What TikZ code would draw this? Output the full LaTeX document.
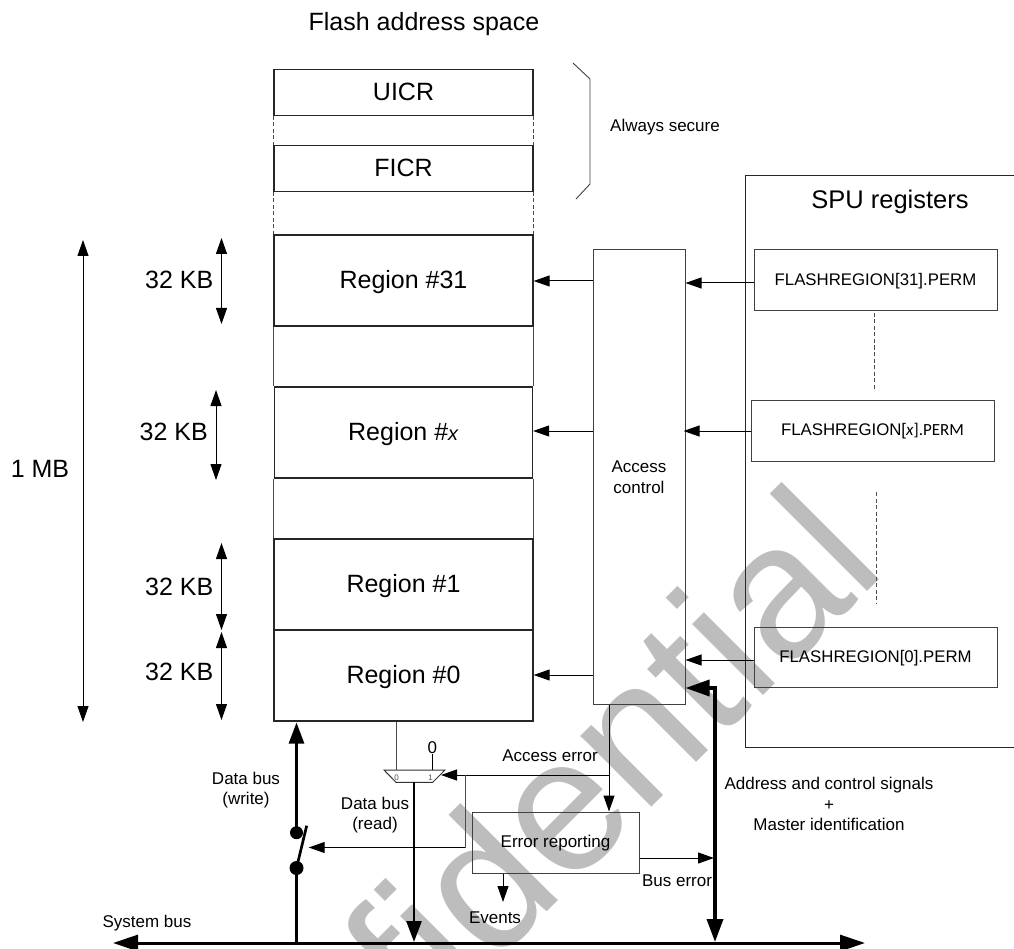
\documentclass[tikz,border=0pt]{standalone}
\usepackage{fontspec}
\setmainfont{Liberation Sans}
\newfontfamily\carl{Carlito}
\usetikzlibrary{arrows.meta,calc}
\tikzset{
  box/.style={draw=black!85,line width=1.3pt,inner sep=0pt,minimum width=#1,text height=16pt,text depth=0pt,font=\fontsize{25}{28}\selectfont},
  thinbox/.style={draw=black!75,line width=1pt,inner sep=0pt,text height=11pt,text depth=1pt,font=\fontsize{16.8}{20}\selectfont},
  big/.style={inner sep=0pt,text height=18pt,text depth=0pt,font=\fontsize{25}{28}\selectfont},
  small/.style={inner sep=0pt,align=center,font=\fontsize{17}{20.5}\selectfont},
  tiny/.style={inner sep=0pt,text=black!70,font=\fontsize{8}{9}\selectfont},
  arr/.style={-{Triangle[length=16pt,width=11pt]},line width=1pt,black},
  dblarr/.style={{Triangle[length=16pt,width=11pt]}-{Triangle[length=16pt,width=11pt]},line width=1pt,black},
  fat/.style={-{Triangle[length=21pt,width=15pt]},line width=2.7pt,black},
  plain/.style={line width=1pt,black!70},
  dashline/.style={line width=.9pt,black!70,dash pattern=on 4pt off 2.5pt},
}
\begin{document}
\begin{tikzpicture}[x=1pt,y=-1pt]
\useasboundingbox (0,0) rectangle (1014,949);
\clip (0,0) rectangle (1014,949);
% watermark
\node[rotate=45,text=black!26,inner sep=0pt,font=\fontsize{190}{196}\selectfont] (wm) at (486,877) {Confidential};
% flash
\node[big] (title) at (424,22) {Flash address space};
\node[box=259pt,minimum height=46pt] (uicr) at (403.5,92.3) {UICR};
\node[box=259pt,minimum height=46pt] (ficr) at (403.5,168.3) {FICR};
\node[box=259pt,minimum height=91pt] (r31) at (403.5,280.5) {Region \#31};
\node[box=258pt,minimum height=91pt] (rx) at (403.5,432.5) {Region \#{\fontsize{20}{20}\selectfont\textit{x}}};
\node[box=259pt,minimum height=91pt] (r1) at (403.5,584.5) {Region \#1};
\node[box=259pt,minimum height=91pt] (r0) at (403.5,675.5) {Region \#0};
\foreach \a/\b in {uicr/ficr,ficr/r31}{
  \draw[dashline] (\a.south west) -- (\b.north west);
  \draw[dashline] (\a.south east) -- (\b.north east);
}
\foreach \a/\b in {r31/rx,rx/r1}{
  \draw[plain] (\a.south west) -- (\a.south west |- \b.north);
  \draw[plain] (\a.south east) -- (\a.south east |- \b.north);
}
% always secure
\coordinate (bt) at (573,63);
\coordinate (bb) at (576,199);
\draw[line width=.9pt,black!75] (bt) -- (590,79) -- (590,184) -- (bb);
\node[small] (sec) at (665,127) {Always secure};
% size labels
\coordinate (mbT) at (83,240); \coordinate (mbB) at (83,722);
\draw[dblarr] (mbT) -- (mbB);
\node[big] (mb) at (40,468) {1 MB};
\foreach \n/\x/\t/\b/\ty in {a/221.5/238/324/280,b/216/390/480/431,c/221.5/543/630/586,d/221.5/632/720/671}{
  \coordinate (s\n T) at (\x,\t); \coordinate (s\n B) at (\x,\b);
  \draw[dblarr] (s\n T) -- (s\n B);
  \node[big,anchor=east] (k\n) at (\x-8,\ty) {32 KB};
}
% access control
\node[draw=black!75,line width=1pt,inner sep=0pt,minimum width=92pt,minimum height=454pt,align=center,font=\fontsize{17}{20.5}\selectfont] (acc) at (639,477) {Access\\control};
% SPU
\coordinate (spuA) at (1020,176); \coordinate (spuB) at (745,176); \coordinate (spuC) at (745,747); \coordinate (spuD) at (1020,747);
\draw[line width=1pt,black!85] (spuA) -- (spuB) -- (spuC) -- (spuD);
\node[big,font=\fontsize{25.5}{28}\selectfont] (spu) at (890,199.5) {SPU registers};
\node[thinbox,minimum width=243pt,minimum height=61pt] (f31) at (875.5,280.5) {FLASHREGION[31].PERM};
\node[thinbox,minimum width=243pt,minimum height=61pt] (fx) at (872.5,430.5) {FLASHREGION[{\carl\fontsize{17}{20}\selectfont\textit{x}].PERM}};
\node[thinbox,minimum width=243pt,minimum height=60pt] (f0) at (875.5,657) {FLASHREGION[0].PERM};
\coordinate (d1a) at (874,313); \coordinate (d1b) at (874,391);
\coordinate (d2a) at (876,492); \coordinate (d2b) at (876,604);
\draw[dashline] (d1a) -- (d1b);
\draw[dashline] (d2a) -- (d2b);
% arrows regions
\draw[arr] (acc.west |- 0,281) -- (r31.east |- 0,281);
\draw[arr] (acc.west |- 0,431) -- (rx.east |- 0,431);
\draw[arr] (acc.west |- 0,675) -- (r0.east |- 0,675);
\draw[arr] (f31.west |- 0,283) -- (acc.east |- 0,283);
\draw[arr] (fx.west |- 0,431) -- ([xshift=-2pt]acc.east |- 0,431);
\draw[arr] (f0.west |- 0,660) -- (acc.east |- 0,660);
% bus
\coordinate (busL) at (113,943); \coordinate (busR) at (865,943);
\draw[{Triangle[length=25pt,width=16pt]}-{Triangle[length=25pt,width=16pt]},line width=3pt,black] (busL) -- (busR);
\node[small] (sb) at (147,923) {System bus};
% data write
\coordinate (wB) at (296.5,943);
\node[circle,fill=black,inner sep=0pt,minimum size=13pt] (sw1) at (296.5,832.7) {};
\node[circle,fill=black,inner sep=0pt,minimum size=14pt] (sw2) at (296.5,868) {};
\draw[line width=2.7pt,black] (wB) -- (sw2);
\draw[line width=2.7pt,black] (sw2.center) -- (306.7,825.7);
\draw[fat] (sw1.center) -- (296.5,722.5);
\node[small] (dw) at (246,790) {Data bus\\(write)};
% mux
\coordinate (mA) at (384,770); \coordinate (mB) at (445,770); \coordinate (mC) at (432.7,782.3); \coordinate (mD) at (396,782.3);
\draw[line width=1pt,black!80] (mA) -- (mB) -- (mC) -- (mD) -- cycle;
\coordinate (m0) at (396,770); \coordinate (m1) at (432.3,770); \coordinate (mOut) at (414,782.3); \coordinate (mSel) at (441,775);
\node[tiny] (l0) at (396.7,777.3) {0};
\node[tiny] (l1) at (430.7,777.3) {1};
\draw[plain] (m0 |- r0.south) -- (m0);
\node[small,font=\fontsize{17}{20}\selectfont] (z) at (432.3,748) {0};
\draw[line width=.9pt,black] (z.south) -- (m1);
\draw[fat] (mOut) -- (414,942);
\node[small] (dr) at (375,815) {Data bus\\(read)};
% error
\node[thinbox,minimum width=167pt,minimum height=61pt,font=\fontsize{17}{20}\selectfont] (err) at (555.5,842.5) {Error reporting};
\draw[arr] (acc.south -| 609,0) -- (err.north -| 609,0);
\coordinate (ae) at (609,775);
\coordinate (ae2) at (465,775);
\coordinate (ae3) at (465,847.5);
\draw[arr] (ae) -- (mSel);
\draw[plain] (ae2) -- (ae3);
\draw[arr] (ae3) -- (308.7,847.5);
\node[small] (aet) at (550,756) {Access error};
\node[small] (ev) at (495,918) {Events};
\draw[arr] (err.south -| 503,0) -- (503,902);
% address
\coordinate (adT) at (715,688); \coordinate (adB) at (715,942);
\draw[{Triangle[length=24pt,width=16pt]}-{Triangle[length=23pt,width=16pt]},line width=3.5pt,black] (acc.east |- 0,688) -- (adT) -- (adB);
\draw[arr] (err.east |- 0,858) -- (714,858);
\node[small] (bet) at (677,880.5) {Bus error};
\node[small] (adt) at (829,804) {Address and control signals\\+\\Master identification};
\end{tikzpicture}
\end{document}
